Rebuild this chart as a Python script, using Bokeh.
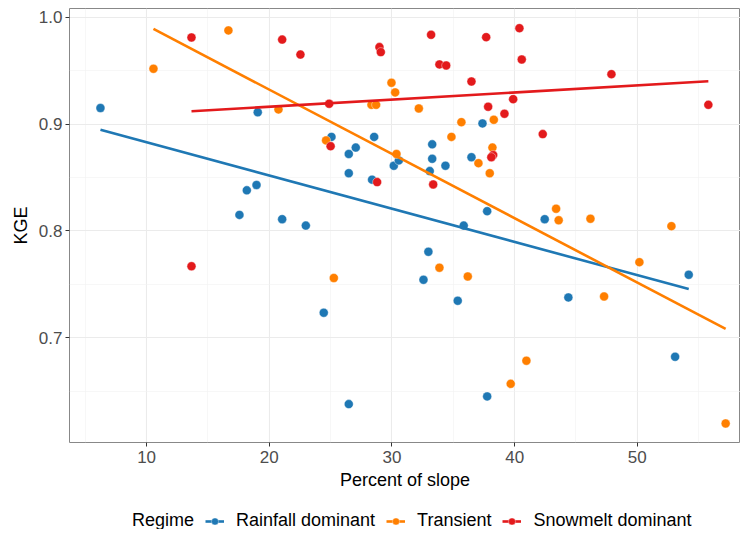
import numpy as np
from bokeh.plotting import figure
from bokeh.layouts import column
from bokeh.models import FixedTicker, Legend, LegendItem, CustomJSTickFormatter
from bokeh.embed import file_html
from bokeh.resources import INLINE

# Rainfall dominant
rain_x = [6.24, 19.06, 25.07, 28.55, 27.05, 26.48, 26.48, 28.38, 30.15, 30.56, 18.96, 18.17,
          17.57, 21.05, 22.98, 24.44, 26.48, 37.38, 33.28, 33.28, 34.36, 36.48, 33.08, 37.76,
          42.45, 35.85, 32.97, 32.57, 35.36, 44.38, 54.19, 53.08, 37.76]
rain_y = [0.915, 0.911, 0.888, 0.888, 0.878, 0.872, 0.854, 0.848, 0.861, 0.866, 0.843, 0.838,
          0.815, 0.811, 0.805, 0.7235, 0.638, 0.9006, 0.881, 0.8675, 0.861, 0.869, 0.856, 0.8185,
          0.811, 0.805, 0.7805, 0.7543, 0.7347, 0.7378, 0.759, 0.6823, 0.6452]
# Transient
trans_x = [10.56, 16.67, 20.75, 24.63, 25.26, 28.33, 28.71, 29.96, 30.26, 30.37, 32.19, 34.85,
           35.66, 38.3, 38.19, 37.05, 37.97, 43.38, 43.59, 46.18, 52.78, 33.87, 36.18, 50.17,
           47.29, 40.96, 39.68, 57.2]
trans_y = [0.9517, 0.9876, 0.9137, 0.8847, 0.756, 0.918, 0.918, 0.9386, 0.9296, 0.872, 0.9146, 0.888,
           0.9018, 0.904, 0.878, 0.8634, 0.854, 0.8208, 0.810, 0.8114, 0.8045, 0.7656, 0.7574, 0.7708,
           0.7387, 0.6786, 0.657, 0.6199]
# Snowmelt dominant
snow_x = [13.66, 21.05, 22.54, 28.98, 29.09, 24.88, 25.0, 28.79, 13.66, 40.39, 33.19, 37.68,
          40.58, 33.87, 34.42, 47.89, 36.48, 39.88, 55.79, 37.84, 39.17, 42.29, 38.25, 38.1, 33.36]
snow_y = [0.981, 0.979, 0.965, 0.972, 0.9673, 0.919, 0.8793, 0.8457, 0.767, 0.9897, 0.9835, 0.9813,
          0.9604, 0.9558, 0.9548, 0.9467, 0.9398, 0.9233, 0.918, 0.9162, 0.9096, 0.8906, 0.871, 0.869, 0.8435]

series_names = ["Rainfall dominant", "Transient", "Snowmelt dominant"]
legend_title = "Regime"
colors = ["#1F78B4", "#FF7F00", "#E31A1C"]
x_ticks = [10, 20, 30, 40, 50]
x_minor = [5, 15, 25, 35, 45, 55]
y_ticks = [0.7, 0.8, 0.9, 1.0]
y_minor = [0.65, 0.75, 0.85, 0.95]

FONT = "Liberation Sans"
W = 740

p = figure(width=W, height=494, x_range=(3.716, 58.41), y_range=(0.6021, 1.0081),
           output_backend="svg", toolbar_location=None,
           min_border_left=69, min_border_right=0, min_border_top=8, min_border_bottom=52)
p.outline_line_color = "#888888"
p.outline_line_width = 1

p.xaxis.ticker = FixedTicker(ticks=x_ticks, minor_ticks=x_minor)
p.yaxis.ticker = FixedTicker(ticks=y_ticks, minor_ticks=y_minor)
p.yaxis.formatter = CustomJSTickFormatter(code="return tick.toFixed(1);")

for ax in (p.xaxis, p.yaxis):
    ax.axis_line_color = None
    ax.major_tick_line_color = "#333333"
    ax.major_tick_out = 4
    ax.major_tick_in = 0
    ax.minor_tick_line_color = None
    ax.major_label_text_font = FONT
    ax.major_label_text_font_size = "17px"
    ax.major_label_text_color = "#4D4D4D"
    ax.axis_label_text_font = FONT
    ax.axis_label_text_font_size = "18px"
    ax.axis_label_text_font_style = "normal"
    ax.axis_label_text_color = "black"

p.xaxis.axis_label = "Percent of slope"
p.yaxis.axis_label = "KGE"
p.xaxis.major_label_standoff = 4
p.yaxis.major_label_standoff = 3
p.xaxis.axis_label_standoff = 4
p.yaxis.axis_label_standoff = 5

p.grid.grid_line_color = "#EBEBEB"
p.grid.grid_line_width = 1.1
p.grid.minor_grid_line_color = "#F2F2F2"
p.grid.minor_grid_line_width = 0.6

for name, c, xs, ys in zip(series_names, colors, [rain_x, trans_x, snow_x], [rain_y, trans_y, snow_y]):
    xs = np.array(xs)
    ys = np.array(ys)
    slope, intercept = np.polyfit(xs, ys, 1)
    lx = np.array([xs.min(), xs.max()])
    ly = slope * lx + intercept
    p.scatter(xs, ys, size=9, fill_color=c, line_color="white", line_width=0.4)
    p.line(lx, ly, line_color=c, line_width=2.6)

# legend strip below the plot
lg = figure(width=W, height=35, x_range=(0, 1), y_range=(0, 1),
            output_backend="svg", toolbar_location=None,
            min_border_left=0, min_border_right=0, min_border_top=0, min_border_bottom=0)
lg.axis.visible = False
lg.grid.visible = False
lg.outline_line_color = None

dummy = lg.scatter(x=[5], y=[5], size=1, fill_alpha=0, line_alpha=0)
items = [LegendItem(label=legend_title, renderers=[dummy])]
for name, c in zip(series_names, colors):
    r_line = lg.line(x=[5, 6], y=[5, 6], line_color=c, line_width=2.6)
    r_pt = lg.scatter(x=[5], y=[5], size=9, fill_color=c, line_color="white", line_width=0.4)
    items.append(LegendItem(label=name, renderers=[r_line, r_pt]))

legend = Legend(items=items, orientation="horizontal", location=(32, -2),
                label_text_font=FONT, label_text_font_size="18px", label_text_color="black",
                glyph_width=19, glyph_height=18, label_standoff=12, spacing=11,
                border_line_color=None, background_fill_alpha=0, margin=0, padding=2)
lg.add_layout(legend, "center")

layout = column(p, lg, spacing=0)
open("out.html", "w").write(file_html(layout, INLINE))
